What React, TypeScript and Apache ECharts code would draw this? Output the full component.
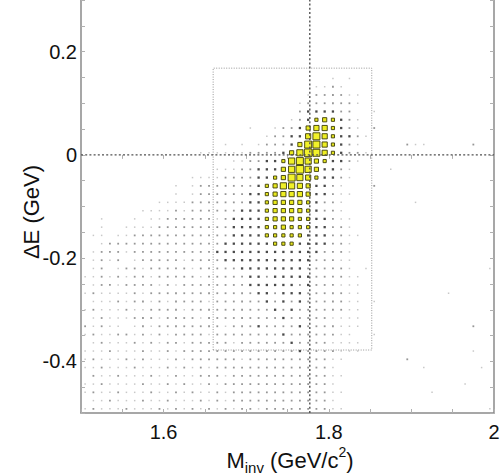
import React, { useEffect, useRef } from "react";
import * as echarts from "echarts";

// Axis ranges and binning of the 2D histogram (Minv vs ΔE)
const X_RANGE = [1.5, 2.0];
const Y_RANGE = [-0.5, 0.3];
const X_BIN = 0.01;
const Y_BIN = 0.016;
const TICK_STEP = 0.05;
const X_TICK_LABELS = [1.6, 1.8, 2];
const Y_TICK_LABELS = [-0.4, -0.2, 0, 0.2];

// Reference lines and signal box
const TAU_MASS = 1.777;
const DE_ZERO = 0;
const BOX_X = [1.66, 1.852];
const BOX_Y = [-0.378, 0.168];

// Bin content levels (0 = empty .. 9 = largest box); rows from top (ΔE = 0.3) down,
// 50 columns from Minv = 1.5 to 2.0 (spaces only for readability)
const COUNT_ROWS = [
  "0000000000 0000000000 0000000000 0000000000 0000000000",
  "0000000000 0000000000 0000000000 0000000000 0000000000",
  "0000000000 0000000000 0000000000 0000000000 0000000000",
  "0000000000 0000000000 0000000000 0000000000 0000000000",
  "0000000000 0000000000 0000000000 0000000000 0000000000",
  "0000000000 0000000000 0000000000 0000000000 0000000000",
  "0000000000 0000000000 0000000000 0000000000 0000000000",
  "0000000000 0000000000 0000000000 0000000000 0000000000",
  "0000000000 0000000000 0000000000 0000000000 0000000000",
  "0000000000 0000000000 0000000000 1010000000 0000000000",
  "0000000000 0000000000 0000000011 2100000000 0000000000",
  "0000000000 0000000000 0000000122 2211000000 0000000000",
  "0000000000 0000000000 0000001222 2221000000 0000000000",
  "0000000000 0000000000 0000002333 3220010000 0000000000",
  "0000000000 0000000000 0000012345 4321000000 0000000000",
  "0000000000 0000000000 1001223566 4321020000 0000000000",
  "0000000000 0000000000 0012233686 4332100000 0000000000",
  "0000000000 0000000101 0122235886 4321000002 1100000200",
  "0000000000 0000111111 2222357986 4322100000 0000000000",
  "0000000000 0000000011 2233478754 3321000000 0000000000",
  "0000000000 0000001112 2333579753 3210000100 0000000000",
  "0000000000 0001111222 2334587643 3210000000 0000000000",
  "0000000000 0101222222 2345776533 2100020000 0000000000",
  "0000000000 0101222222 3345666533 2110000000 0000000000",
  "0000000001 1112222222 3345555432 2100000000 1000000000",
  "0000000111 1212222223 3345555432 2100000000 0000000000",
  "0010001011 2222221233 3345554433 2110000000 0000000000",
  "0010011112 2222222233 3344544433 2210000000 0000000000",
  "0110112222 2222222233 3344444333 2211000000 0000000000",
  "0012222222 2222222333 3334443333 2210000000 0000000000",
  "0122212222 2222223333 3333333332 2210000000 0000000000",
  "0121201222 2212222333 3333333322 2110000000 0000000000",
  "0120122122 2221222223 3333333222 2210100000 0000000001",
  "1121212212 2222122222 3323333322 2211000000 0000000000",
  "0122122221 2122222222 3333332322 2111000000 0000000000",
  "1211112122 2222222222 2332333222 2211000000 0000100000",
  "0111212212 1222212222 2232323222 2211010000 0000000000",
  "1211121122 2212222222 2223232222 2211000000 0000000000",
  "0121112221 2222122222 2222322222 1111000000 0000000000",
  "2121101212 2222222122 2322223222 2111000000 0000000200",
  "1211221212 1222212222 2222322222 2110010000 0000000000",
  "0121112121 2212222212 2222232222 1111000000 0000000000",
  "1112111211 2122222222 2222223222 2111000000 0000000100",
  "1211121211 1212222221 2222222222 1100000002 0000000000",
  "1121112111 2121212222 2222222222 1000000000 0100000010",
  "0211211121 1211222122 2222222222 1100000000 0000000000",
  "1121111211 2121121222 2222222222 1000000000 0000001000",
  "1211211121 1212112122 2222222222 1100000000 0010000000",
  "0112111211 2111212122 2222222222 1000000000 0000000000",
  "1211121112 1212121212 2122222222 1100000000 0000000001",
];

const FONT = "Helvetica, Arial, 'Liberation Sans', sans-serif";

const LEVEL_STYLE: Record<number, { size: number; color: string; border?: boolean }> = {
  1: { size: 1.5, color: "#c8c8c8" },
  2: { size: 1.8, color: "#969696" },
  3: { size: 2.3, color: "#4a4a4a" },
  4: { size: 3.2, color: "#e6e61e", border: true },
  5: { size: 4.2, color: "#eaea1e", border: true },
  6: { size: 5.2, color: "#eeee22", border: true },
  7: { size: 6.2, color: "#f0f028", border: true },
  8: { size: 7.0, color: "#f2f22a", border: true },
  9: { size: 7.6, color: "#f4f42c", border: true },
};

const near = (v: number, list: number[]) => list.some((t) => Math.abs(t - v) < 1e-6);
const fmt = (v: number) => String(Number(v.toFixed(2)));

export default function App() {
  const ref = useRef<HTMLDivElement>(null);

  useEffect(() => {
    if (!ref.current) return;
    const chart = echarts.init(ref.current, null, { renderer: "svg" });

    const levels: number[][][] = Array.from({ length: 10 }, () => []);
    COUNT_ROWS.forEach((row, r) => {
      const s = row.replace(/ /g, "");
      for (let k = 0; k < s.length; k++) {
        const lv = Number(s[k]);
        if (lv > 0) {
          levels[lv].push([
            X_RANGE[0] + X_BIN * (k + 0.5),
            Y_RANGE[1] - Y_BIN * (r + 0.5),
          ]);
        }
      }
    });

    const scatterSeries = [1, 2, 3, 4, 5, 6, 7, 8, 9].map((lv) => {
      const st = LEVEL_STYLE[lv];
      return {
        type: "scatter",
        symbol: "rect",
        symbolSize: st.size,
        data: levels[lv],
        silent: true,
        z: 3 + lv,
        itemStyle: {
          color: st.color,
          opacity: 1,
          borderColor: st.border ? "#3c3c08" : st.color,
          borderWidth: st.border ? 0.9 : 0,
        },
      };
    });

    const lineBase = {
      type: "line",
      symbol: "none",
      silent: true,
      animation: false,
    };

    const axisLineStyle = { color: "#8a8a8a", width: 1.5 };
    const tickStyle = { color: "#b0b0b0", width: 1 };

    const option = {
      animation: false,
      backgroundColor: "#ffffff",
      grid: { left: 81, top: 0, width: 413, height: 413, containLabel: false },
      xAxis: [
        {
          type: "value",
          min: X_RANGE[0],
          max: X_RANGE[1],
          interval: TICK_STEP,
          position: "bottom",
          axisLine: { show: true, onZero: false, lineStyle: axisLineStyle },
          axisTick: { show: true, inside: true, length: 4, lineStyle: tickStyle },
          splitLine: { show: false },
          axisLabel: {
            show: true,
            showMinLabel: true,
            showMaxLabel: true,
            margin: 9,
            fontSize: 20,
            color: "#111",
            fontFamily: FONT,
            formatter: (v: number) => (near(v, X_TICK_LABELS) ? fmt(v) : ""),
          },
        },
        {
          type: "value",
          min: X_RANGE[0],
          max: X_RANGE[1],
          interval: TICK_STEP,
          position: "top",
          axisLine: { show: false },
          axisTick: { show: true, inside: true, length: 4, lineStyle: tickStyle },
          splitLine: { show: false },
          axisLabel: { show: false },
        },
      ],
      yAxis: [
        {
          type: "value",
          min: Y_RANGE[0],
          max: Y_RANGE[1],
          interval: TICK_STEP,
          position: "left",
          axisLine: { show: true, onZero: false, lineStyle: axisLineStyle },
          axisTick: { show: true, inside: true, length: 4, lineStyle: tickStyle },
          splitLine: { show: false },
          axisLabel: {
            show: true,
            showMinLabel: true,
            showMaxLabel: true,
            margin: 4,
            fontSize: 20,
            color: "#111",
            fontFamily: FONT,
            formatter: (v: number) => (near(v, Y_TICK_LABELS) ? fmt(v) : ""),
          },
        },
        {
          type: "value",
          min: Y_RANGE[0],
          max: Y_RANGE[1],
          interval: TICK_STEP,
          position: "right",
          axisLine: { show: true, onZero: false, lineStyle: axisLineStyle },
          axisTick: { show: true, inside: true, length: 4, lineStyle: tickStyle },
          splitLine: { show: false },
          axisLabel: { show: false },
        },
      ],
      series: [
        ...scatterSeries,
        {
          ...lineBase,
          z: 20,
          data: [
            [X_RANGE[0], DE_ZERO],
            [X_RANGE[1], DE_ZERO],
          ],
          lineStyle: { color: "#505050", width: 1.4, type: [2, 2.2] },
        },
        {
          ...lineBase,
          z: 20,
          data: [
            [TAU_MASS, Y_RANGE[0]],
            [TAU_MASS, Y_RANGE[1]],
          ],
          lineStyle: { color: "#505050", width: 1.4, type: [2, 2.2] },
        },
        {
          ...lineBase,
          z: 19,
          data: [
            [BOX_X[0], BOX_Y[0]],
            [BOX_X[1], BOX_Y[0]],
            [BOX_X[1], BOX_Y[1]],
            [BOX_X[0], BOX_Y[1]],
            [BOX_X[0], BOX_Y[0]],
          ],
          lineStyle: { color: "#959595", width: 1, type: [1, 1.5] },
        },
      ],
      graphic: [
        {
          type: "text",
          x: 31,
          y: 212,
          rotation: Math.PI / 2,
          style: {
            text: "ΔE (GeV)",
            fontSize: 22,
            fontFamily: FONT,
            fill: "#111",
            align: "center",
            verticalAlign: "middle",
          },
        },
        {
          type: "text",
          x: 290,
          y: 460,
          style: {
            text: "M{sub|inv} (GeV/c{sup|2})",
            fontSize: 22,
            fontFamily: FONT,
            fill: "#111",
            align: "center",
            verticalAlign: "middle",
            lineHeight: 30,
            rich: {
              sub: { fontSize: 15, fontFamily: FONT, fill: "#111", verticalAlign: "bottom", lineHeight: 30 },
              sup: { fontSize: 14, fontFamily: FONT, fill: "#111", verticalAlign: "top", lineHeight: 30 },
            },
          },
        },
      ],
    };

    chart.setOption(option as any);
    return () => chart.dispose();
  }, []);

  return (
    <div
      ref={ref}
      style={{ position: "fixed", left: 0, top: 0, width: 503, height: 475, background: "#fff" }}
    />
  );
}
